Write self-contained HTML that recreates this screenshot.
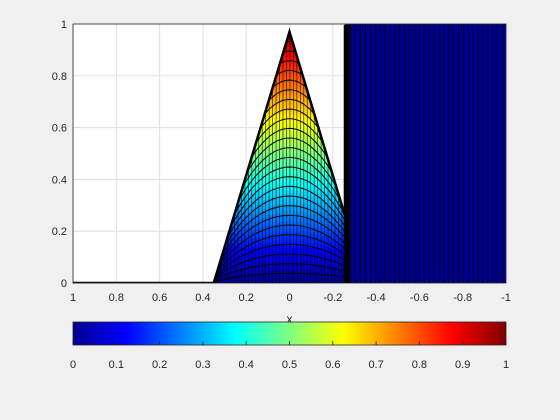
<!DOCTYPE html>
<html><head><meta charset="utf-8"><style>
body{margin:0;background:#f0f0f0;}
svg{display:block;font-family:"Liberation Sans",sans-serif;}
</style></head><body>
<svg id="c" width="560" height="420">
<defs>
<linearGradient id="jetv" x1="0" y1="283" x2="0" y2="24" gradientUnits="userSpaceOnUse">
<stop offset="0" stop-color="#00008f"/><stop offset="0.125" stop-color="#0000ff"/><stop offset="0.375" stop-color="#00ffff"/><stop offset="0.625" stop-color="#ffff00"/><stop offset="0.875" stop-color="#ff0000"/><stop offset="1" stop-color="#800000"/>
</linearGradient>
<linearGradient id="jeth" x1="0" y1="0" x2="1" y2="0">
<stop offset="0" stop-color="#00008f"/><stop offset="0.125" stop-color="#0000ff"/><stop offset="0.375" stop-color="#00ffff"/><stop offset="0.625" stop-color="#ffff00"/><stop offset="0.875" stop-color="#ff0000"/><stop offset="1" stop-color="#800000"/>
</linearGradient>
<clipPath id="tri"><path id="tripath"/></clipPath>
</defs>
<rect x="73" y="24" width="433" height="259" fill="#fff"/>
<g id="grid"></g>
<g id="marks"></g>
<g id="axes"></g>
</svg>
<script>
const xTicks=[1,0.8,0.6,0.4,0.2,0,-0.2,-0.4,-0.6,-0.8,-1];
const yTicks=[0,0.2,0.4,0.6,0.8,1];
const cbTicks=[0,0.1,0.2,0.3,0.4,0.5,0.6,0.7,0.8,0.9,1];
const pulseFoot=[0.35];      // left foot of pulse (x)
const pulsePeak=[0,0.97];    // peak x, height
const cutX=[-0.255];          // discontinuity location
const blockHeight=[1];
const nLevels=[26];
const NS='http://www.w3.org/2000/svg';
const X=v=>73+(1-v)/2*433, Y=v=>283-v*259;
function el(t,a,p){const e=document.createElementNS(NS,t);for(const k in a)e.setAttribute(k,a[k]);(p||document.getElementById('c')).appendChild(e);return e;}
const grid=document.getElementById('grid'),marks=document.getElementById('marks'),axes=document.getElementById('axes');
xTicks.forEach(t=>{const g=el('line',{x1:X(t),x2:X(t),y1:24,y2:283,stroke:'#dfdfdf','stroke-width':1},grid);
});
yTicks.forEach(t=>{const g=el('line',{x1:73,x2:506,y1:Y(t),y2:Y(t),stroke:'#dfdfdf','stroke-width':1},grid);
});
// pulse
const foot=pulseFoot[0],px=pulsePeak[0],ph=pulsePeak[1],cx=cutX[0];
const slope=ph/(foot-px);
const hAt=x=>Math.max(0,ph-Math.abs(x-px)*slope);
const triD=`M${X(foot)},${Y(0)} L${X(px)},${Y(ph)} L${X(cx)},${Y(hAt(cx))} L${X(cx)},${Y(0)} Z`;
document.getElementById('tripath').setAttribute('d',triD);
const tri=el('path',{d:triD,fill:'url(#jetv)'},marks);

const gc=el('g',{'clip-path':'url(#tri)'},marks);
for(let x=foot;x>cx;x-=0.016){const l=el('line',{x1:X(x),x2:X(x),y1:Y(hAt(x)),y2:283,stroke:'#000','stroke-width':0.7,opacity:0.8},gc);
}
for(let i=1;i<=nLevels[0];i++){const a=ph*i/nLevels[0];let d='';
for(let x=foot;x>=cx-0.001;x-=0.01){const u=Math.min(Math.abs(x-px)/(foot-px),1);const y=a*Math.pow(Math.cos(u*Math.PI/2),0.6);d+=(d?'L':'M')+X(x).toFixed(1)+','+Y(Math.min(y,hAt(x))).toFixed(1);}
const p=el('path',{d:d,fill:'none',stroke:'#000','stroke-width':1},gc);
}
const te=el('path',{d:`M${X(foot)},${Y(0)} L${X(px)},${Y(ph)} L${X(cx)},${Y(hAt(cx))}`,fill:'none',stroke:'#000','stroke-width':2.5},marks);

const bl=el('line',{x1:73,x2:X(foot),y1:282.5,y2:282.5,stroke:'#000','stroke-width':1.5},marks);

// block
const bx=X(cx);
const blk=el('rect',{x:bx,y:Y(blockHeight[0]),width:506-bx,height:Y(0)-Y(blockHeight[0]),fill:'#00008f'},marks);

for(let x=bx+6;x<506;x+=4.9){const l=el('line',{x1:x,x2:x,y1:24,y2:283,stroke:'#000','stroke-width':1,opacity:0.75},marks);
}
const be=el('rect',{x:bx-1,y:25,width:6,height:258,fill:'#000'},marks);

// axes
const box=el('rect',{x:73,y:24,width:433,height:259,fill:'none',stroke:'#262626','stroke-width':0.8},axes);

xTicks.forEach(t=>{const s=el('text',{x:X(t),y:301,'font-size':11,'text-anchor':'middle',fill:'#262626'},axes);s.textContent=String(t);
});
yTicks.forEach(t=>{const s=el('text',{x:67,y:Y(t)+4,'font-size':11,'text-anchor':'end',fill:'#262626'},axes);s.textContent=String(t);
});
const xl=el('text',{x:289.5,y:323,'font-size':12,'text-anchor':'middle',fill:'#262626'},axes);xl.textContent='x';

const cb=el('rect',{x:73,y:322,width:433,height:23,fill:'url(#jeth)',stroke:'#262626','stroke-width':0.8},axes);

cbTicks.forEach(t=>{const x=73+t*433;
const tk=el('line',{x1:x,x2:x,y1:345,y2:341,stroke:'#262626','stroke-width':0.8},axes);

const s=el('text',{x:x,y:368,'font-size':11,'text-anchor':'middle',fill:'#262626'},axes);s.textContent=String(t);
});
</script>
</body></html>
